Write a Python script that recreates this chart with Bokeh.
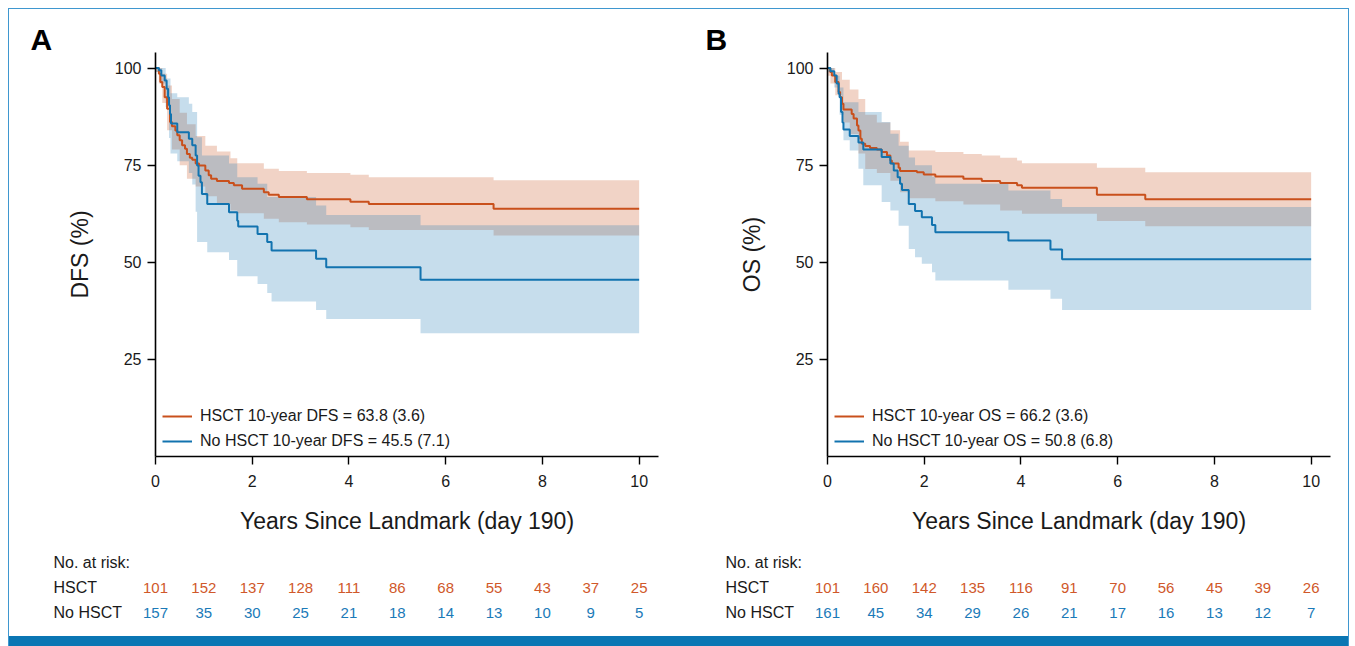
import numpy as np
from bokeh.plotting import figure
from bokeh.models import FixedTicker, Div, Range1d
from bokeh.core.properties import value
from bokeh.layouts import row, column
from bokeh.embed import file_html
from bokeh.resources import INLINE

# ---------------- data ----------------
END_YEAR = 10
risk_years = [0, 1, 2, 3, 4, 5, 6, 7, 8, 9, 10]

# Panel A : DFS
dfs_hsct_t = [0, 0.07, 0.10, 0.14, 0.19, 0.24, 0.30, 0.34, 0.41, 0.45, 0.50, 0.55, 0.61, 0.65, 0.71, 0.76,
              0.83, 0.90, 1.03, 1.10, 1.15, 1.27, 1.52, 1.62, 1.79, 2.24, 2.34, 2.55, 3.13, 4.03, 4.41, 6.99]
dfs_hsct_s = [100, 98.5, 96.4, 95.1, 92.5, 89.5, 86.1, 85.0, 83.9, 82.7, 81.4, 80.1, 79.2, 77.9, 76.9, 76.4,
              75.4, 74.9, 73.6, 72.4, 71.5, 70.9, 70.4, 69.8, 68.9, 68.0, 67.4, 66.8, 66.2, 65.6, 65.0, 63.8]
dfs_hsct_ci_t = [0, 0.07, 0.14, 0.24, 0.34, 0.50, 0.65, 0.83, 1.03, 1.27, 1.55, 1.69, 2.24, 2.55, 3.13, 4.03, 4.41, 6.99]
dfs_hsct_hi = [100, 100, 98.5, 95.5, 92, 88.5, 85.5, 82.5, 80, 78.5, 76.8, 75.5, 74.1, 73.5, 73.0, 72.5, 71.9, 71.1]
dfs_hsct_lo = [99, 96, 91, 84, 79, 75, 71.5, 69.5, 67, 65, 63.3, 62.6, 61.2, 60.3, 59.7, 59.0, 58.3, 56.9]

dfs_no_t = [0, 0.07, 0.12, 0.19, 0.23, 0.26, 0.28, 0.30, 0.32, 0.45, 0.69, 0.76, 0.83, 0.86, 0.89, 0.93,
            0.96, 1.07, 1.52, 1.69, 1.71, 2.11, 2.31, 2.40, 3.32, 3.53, 5.48]
dfs_no_s = [100, 99.4, 98.1, 96.8, 94.7, 92.5, 90.4, 88.2, 85.7, 83.5, 81.8, 80.1, 77.5, 74.9, 72.3, 70.6,
            67.6, 65.0, 62.9, 60.7, 59.2, 57.3, 55.2, 53.0, 50.9, 48.7, 45.5]
dfs_no_ci_t = [0, 0.10, 0.21, 0.28, 0.31, 0.45, 0.69, 0.76, 0.83, 0.86, 0.96, 1.07, 1.52, 1.69, 2.11, 2.31,
               2.40, 3.32, 3.53, 5.48]
dfs_no_hi = [100, 100, 97.3, 97.3, 93.5, 92.5, 90.8, 88.7, 88.7, 82.2, 77.5, 77.5, 75.4, 71.9, 70.2, 66.8,
             66.8, 64.6, 62.2, 59.5]
dfs_no_lo = [99, 96, 90, 82, 78, 76, 73, 70, 63, 55.2, 55.2, 52.6, 50.6, 46.4, 44.4, 42.1, 39.9, 37.7, 35.4, 31.7]

dfs_risk_hsct = [101, 152, 137, 128, 111, 86, 68, 55, 43, 37, 25]
dfs_risk_no = [157, 35, 30, 25, 21, 18, 14, 13, 10, 9, 5]

# Panel B : OS
os_hsct_t = [0, 0.055, 0.09, 0.16, 0.23, 0.26, 0.30, 0.33, 0.50, 0.54, 0.61, 0.64, 0.68, 0.71, 0.78, 0.88,
             1.02, 1.12, 1.23, 1.30, 1.33, 1.47, 1.50, 1.85, 1.99, 2.23, 2.81, 3.19, 3.57, 3.92, 4.02, 5.57, 6.57]
os_hsct_s = [100, 99.0, 98.1, 96.4, 93.8, 92.5, 90.8, 89.3, 88.2, 87.0, 85.2, 83.9, 81.8, 80.5, 79.9, 79.4,
             79.0, 78.4, 77.5, 76.2, 75.4, 74.3, 73.5, 73.2, 72.6, 72.1, 71.5, 70.9, 70.4, 69.8, 69.2, 67.4, 66.2]
os_hsct_ci_t = [0, 0.06, 0.16, 0.30, 0.46, 0.64, 0.78, 1.02, 1.30, 1.50, 1.68, 2.23, 2.81, 3.19, 3.57, 3.92,
                4.02, 5.57, 6.57]
os_hsct_hi = [100, 100, 99, 97, 94.5, 92, 88, 86, 84, 81, 78.8, 78.4, 77.9, 77.5, 76.9, 76.2, 75.5, 74.3, 73.2]
os_hsct_lo = [98, 96, 93, 86, 83, 78, 74, 73, 71, 68, 66.5, 65.7, 64.9, 64.9, 63.3, 63.3, 62.5, 60.6, 59.3]

os_no_t = [0, 0.06, 0.14, 0.19, 0.23, 0.25, 0.28, 0.31, 0.33, 0.46, 0.64, 0.74, 1.12, 1.30, 1.37, 1.45,
           1.50, 1.54, 1.68, 1.81, 1.95, 2.16, 2.23, 3.74, 4.61, 4.85]
os_no_s = [100, 99.2, 98.1, 96.0, 93.4, 92.5, 88.7, 86.0, 84.2, 82.5, 80.8, 79.0, 77.1, 75.4, 73.6, 71.9,
           70.2, 68.6, 65.0, 63.2, 61.6, 59.6, 57.7, 55.6, 53.3, 50.8]
os_no_ci_t = [0, 0.14, 0.25, 0.33, 0.46, 0.64, 0.74, 1.12, 1.30, 1.37, 1.47, 1.68, 1.81, 1.95, 2.16, 2.23,
              3.74, 4.61, 4.85]
os_no_hi = [100, 98, 95, 91.2, 91.2, 88.7, 88.7, 86.1, 83.1, 83.1, 80, 77, 75, 75, 72, 70.2, 68.5, 66.3, 64.2]
os_no_lo = [99, 95, 88, 81.4, 78.8, 74.1, 69.8, 65.5, 63.3, 63.3, 59.4, 53.4, 51.3, 49.6, 47.4, 45.3, 42.9,
            40.6, 37.7]

os_risk_hsct = [101, 160, 142, 135, 116, 91, 70, 56, 45, 39, 26]
os_risk_no = [161, 45, 34, 29, 26, 21, 17, 16, 13, 12, 7]

x_ticks = [0, 2, 4, 6, 8, 10]
y_ticks = [25, 50, 75, 100]
x_label = "Years Since Landmark (day 190)"
group_names = ["HSCT", "No HSCT"]
risk_title = "No. at risk:"

# ---------------- style ----------------
FONT = "Liberation Sans"
ORANGE = "#c9501c"
BLUE = "#1273af"
ORANGE_FILL = "#c9501c"
BLUE_FILL = "#1a77b3"
ORANGE_TXT = "#d0582a"
BLUE_TXT = "#1b7ab8"
TXT = "#1a1a1a"
X_END = 10.4
KM_H = 531
TAB_H = 96
FRAME_W = 503


def no_align(fig):
    if "frame_align" in fig.properties():
        fig.frame_align = False


def step_xy(t, *ys):
    t = np.asarray(t, dtype=float)
    xs = np.append(np.repeat(t, 2)[1:], END_YEAR)
    return [xs] + [np.repeat(np.asarray(y, dtype=float), 2) for y in ys]


def make_km(letter, letter_dx, ylab, metric, hs, no, width, mb_left):
    mb_right = width - mb_left - FRAME_W
    p = figure(width=width, height=KM_H, x_range=Range1d(0, X_END), y_range=(0, 104),
               output_backend="svg", toolbar_location=None,
               min_border_left=mb_left, min_border_right=mb_right,
               min_border_top=43, min_border_bottom=KM_H - 43 - 404)
    no_align(p)
    p.grid.visible = False
    p.outline_line_color = None

    (h_t, h_s, h_ct, h_hi, h_lo, h_val, h_se) = hs
    (n_t, n_s, n_ct, n_hi, n_lo, n_val, n_se) = no

    x, lo, hi = step_xy(h_ct, h_lo, h_hi)
    p.varea(x=x, y1=lo, y2=hi, fill_color=ORANGE_FILL, fill_alpha=0.25)
    x, lo, hi = step_xy(n_ct, n_lo, n_hi)
    p.varea(x=x, y1=lo, y2=hi, fill_color=BLUE_FILL, fill_alpha=0.25)

    x, s = step_xy(h_t, h_s)
    p.line(x, s, line_color=ORANGE, line_width=2,
           legend_label=f"{group_names[0]} 10-year {metric} = {h_val} ({h_se})")
    x, s = step_xy(n_t, n_s)
    p.line(x, s, line_color=BLUE, line_width=2,
           legend_label=f"{group_names[1]} 10-year {metric} = {n_val} ({n_se})")

    # panel letter as title
    p.title.text = letter
    p.title.align = "left"
    p.title.offset = letter_dx
    p.title.standoff = -7
    p.title.text_font = FONT
    p.title.text_font_size = "30px"
    p.title.text_font_style = "bold"
    p.title.text_color = "black"

    # axes
    for ax in (p.xaxis[0], p.yaxis[0]):
        ax.axis_line_width = 1.6
        ax.axis_line_color = "black"
        ax.major_tick_line_color = "black"
        ax.major_tick_line_width = 1.4
        ax.minor_tick_line_color = None
        ax.major_tick_in = 0
        ax.major_tick_out = 8
        ax.major_label_text_font = FONT
        ax.major_label_text_font_size = "16px"
        ax.major_label_text_color = TXT
        ax.axis_label_text_font = FONT
        ax.axis_label_text_font_size = "23px"
        ax.axis_label_text_font_style = "normal"
        ax.axis_label_text_color = TXT
    p.xaxis.ticker = FixedTicker(ticks=x_ticks)
    p.yaxis.ticker = FixedTicker(ticks=y_ticks)
    p.xaxis.axis_label = x_label
    p.yaxis.axis_label = ylab
    p.xaxis.major_label_standoff = 10
    p.xaxis.axis_label_standoff = 18
    p.yaxis.major_label_standoff = 6
    p.yaxis.axis_label_standoff = 19

    # legend
    lg = p.legend[0]
    lg.location = (7, 5)
    lg.margin = 0
    lg.padding = 8
    lg.spacing = 5
    lg.glyph_width = 30
    lg.glyph_height = 20
    lg.label_height = 20
    lg.label_standoff = 8
    lg.label_text_font = FONT
    lg.label_text_font_size = "16px"
    lg.label_text_color = TXT
    lg.border_line_color = None
    lg.background_fill_alpha = 0
    return p


def make_table(risk_h, risk_n, width, mb_left):
    # x range chosen so that the years line up with the KM frame above
    scale = FRAME_W / X_END
    row_px = 25.0
    top_units = 22 / row_px
    t = figure(width=width, height=TAB_H,
               x_range=Range1d(-mb_left / scale, (width - mb_left) / scale),
               y_range=Range1d(top_units - TAB_H / row_px, top_units),
               output_backend="svg", toolbar_location=None,
               min_border_left=0, min_border_right=0, min_border_top=0, min_border_bottom=0)
    no_align(t)
    t.axis.visible = False
    t.grid.visible = False
    t.outline_line_color = None
    lab_x = -102 / scale
    t.text(x=[lab_x] * 3, y=[0, -1, -2], text=[risk_title] + group_names,
           text_font=value(FONT), text_font_size="16px", text_color=TXT,
           text_align="left", text_baseline="middle")
    t.text(x=risk_years, y=[-1] * len(risk_years), text=[str(v) for v in risk_h],
           text_font=value(FONT), text_font_size="15px", text_color=ORANGE_TXT,
           text_align="center", text_baseline="middle")
    t.text(x=risk_years, y=[-2] * len(risk_years), text=[str(v) for v in risk_n],
           text_font=value(FONT), text_font_size="15px", text_color=BLUE_TXT,
           text_align="center", text_baseline="middle")
    return t


WA, LA = 671, 146
WB, LB = 668, 147
kmA = make_km("A", -125, "DFS (%)", "DFS",
              (dfs_hsct_t, dfs_hsct_s, dfs_hsct_ci_t, dfs_hsct_hi, dfs_hsct_lo, 63.8, 3.6),
              (dfs_no_t, dfs_no_s, dfs_no_ci_t, dfs_no_hi, dfs_no_lo, 45.5, 7.1), WA, LA)
kmB = make_km("B", -122, "OS (%)", "OS",
              (os_hsct_t, os_hsct_s, os_hsct_ci_t, os_hsct_hi, os_hsct_lo, 66.2, 3.6),
              (os_no_t, os_no_s, os_no_ci_t, os_no_hi, os_no_lo, 50.8, 6.8), WB, LB)
tabA = make_table(dfs_risk_hsct, dfs_risk_no, WA, LA)
tabB = make_table(os_risk_hsct, os_risk_no, WB, LB)

bar = Div(text="", width=WA + WB, height=10, margin=0, styles={"background-color": "#0a76b3"})
layout = column(row(kmA, kmB, spacing=0), row(tabA, tabB, spacing=0), bar, spacing=0,
                margin=(8, 0, 0, 8),
                styles={"border-left": "1px solid #3f97cf", "border-right": "1px solid #3f97cf",
                        "border-top": "1px solid #3f97cf"})

open("out.html", "w").write(file_html(layout, INLINE))
